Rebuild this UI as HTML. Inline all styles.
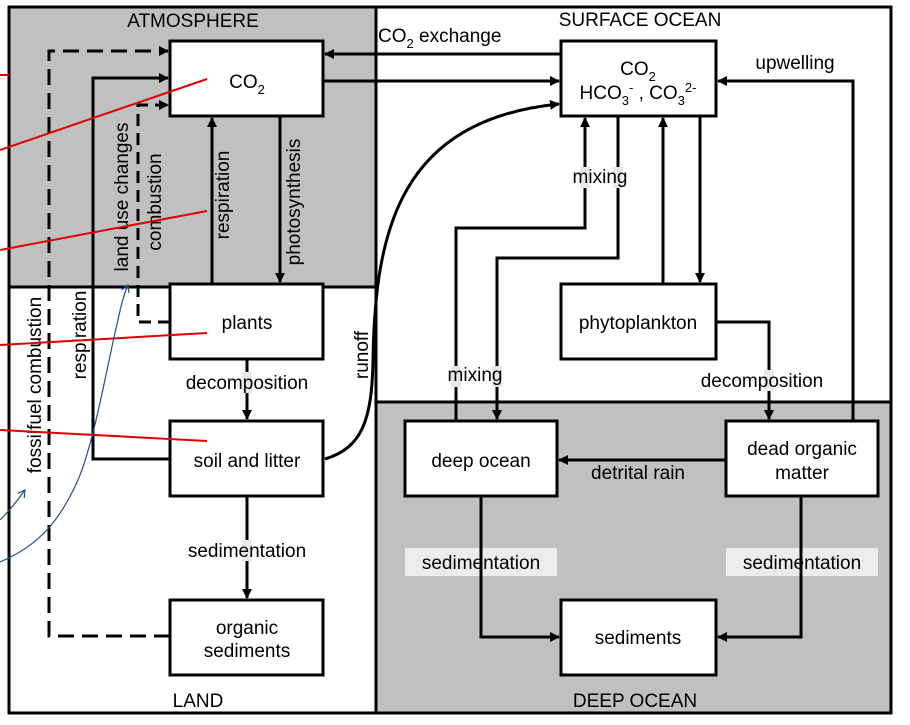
<!DOCTYPE html>
<html><head><meta charset="utf-8"><style>
html,body{margin:0;padding:0;background:#fff;}
svg{display:block;}
text{font-family:"Liberation Sans",Arial,sans-serif;font-size:19px;fill:#000;}
</style></head><body>
<svg width="910" height="725" viewBox="0 0 910 725" xmlns="http://www.w3.org/2000/svg">
<defs>
<marker id="a" markerWidth="10" markerHeight="10" refX="9" refY="5" orient="auto" markerUnits="userSpaceOnUse">
<path d="M0,0 L10,5 L0,10 z" fill="#000"/></marker>
<marker id="b" markerWidth="10" markerHeight="10" refX="8" refY="5" orient="auto" markerUnits="userSpaceOnUse">
<path d="M1,1 L8,5 L1,9" fill="none" stroke="#1f4e8c" stroke-width="1.2"/></marker>
</defs>
<rect x="9" y="7" width="367" height="280" fill="#c0c0c0"/>
<rect x="376" y="402" width="515" height="311" fill="#c0c0c0"/>
<line x1="9" y1="287" x2="376" y2="287" stroke="#000" stroke-width="3"/>
<line x1="376" y1="402" x2="891" y2="402" stroke="#000" stroke-width="3"/>
<line x1="376" y1="7" x2="376" y2="713" stroke="#000" stroke-width="3"/>
<rect x="9" y="7" width="882" height="706" fill="none" stroke="#000" stroke-width="3"/>
<text x="193" y="27" text-anchor="middle" font-size="18">ATMOSPHERE</text>
<text x="640" y="26" text-anchor="middle" font-size="18">SURFACE OCEAN</text>
<text x="198" y="707" text-anchor="middle" font-size="18">LAND</text>
<text x="635" y="707" text-anchor="middle" font-size="18">DEEP OCEAN</text>
<rect x="405" y="548" width="152" height="28" fill="#ececec"/>
<rect x="726" y="548" width="152" height="28" fill="#ececec"/>
<g fill="none" stroke="#000" stroke-width="3">
<line x1="561" y1="54" x2="325" y2="54" marker-end="url(#a)"/>
<line x1="323" y1="81" x2="559" y2="81" marker-end="url(#a)"/>
<path d="M325,459 C362,448 372,420 373,360 C375,230 400,120 559,104" marker-end="url(#a)"/>
<path d="M170,636 H49 V51 H168" stroke-dasharray="16,8" marker-end="url(#a)"/>
<path d="M170,322 H138 V105 H168" stroke-dasharray="12,7" marker-end="url(#a)"/>
<path d="M170,459 H93 V78 H168" marker-end="url(#a)"/>
<line x1="212" y1="284" x2="212" y2="118" marker-end="url(#a)"/>
<line x1="280" y1="116" x2="280" y2="282" marker-end="url(#a)"/>
<line x1="247" y1="359" x2="247" y2="419" marker-end="url(#a)"/>
<line x1="247" y1="496" x2="247" y2="598" marker-end="url(#a)"/>
<path d="M456,421 V228 H585 V118" marker-end="url(#a)"/>
<path d="M618,116 V258 H497 V419" marker-end="url(#a)"/>
<line x1="663" y1="284" x2="663" y2="118" marker-end="url(#a)"/>
<line x1="700" y1="116" x2="700" y2="282" marker-end="url(#a)"/>
<path d="M716,322 H769 V419" marker-end="url(#a)"/>
<path d="M853,421 V81 H718" marker-end="url(#a)"/>
<line x1="726" y1="460" x2="559" y2="460" marker-end="url(#a)"/>
<path d="M481,496 V637 H559" marker-end="url(#a)"/>
<path d="M801,496 V637 H718" marker-end="url(#a)"/>
</g>
<g fill="#e8e8e8">
<rect x="580" y="167" width="10" height="21"/>
<rect x="613" y="167" width="10" height="21"/>
<rect x="451" y="366" width="10" height="21"/>
<rect x="492" y="366" width="10" height="21"/>
<rect x="764" y="370" width="10" height="21"/>
<rect x="242" y="372" width="10" height="21"/>
<rect x="242" y="540" width="10" height="21"/>
</g>
<g fill="#fff" stroke="#000" stroke-width="3">
<rect x="170" y="41" width="153" height="75"/>
<rect x="170" y="284" width="153" height="75"/>
<rect x="170" y="421" width="153" height="75"/>
<rect x="170" y="600" width="153" height="75"/>
<rect x="561" y="41" width="155" height="75"/>
<rect x="561" y="284" width="155" height="75"/>
<rect x="405" y="421" width="152" height="75"/>
<rect x="726" y="421" width="152" height="75"/>
<rect x="561" y="600" width="155" height="75"/>
</g>
<text x="247" y="88" text-anchor="middle">CO<tspan font-size="13" dy="6">2</tspan></text>
<text x="247" y="329" text-anchor="middle">plants</text>
<text x="247" y="467" text-anchor="middle">soil and litter</text>
<text x="247" y="634" text-anchor="middle">organic</text>
<text x="247" y="657" text-anchor="middle">sediments</text>
<text x="638" y="75" text-anchor="middle">CO<tspan font-size="13" dy="6">2</tspan></text>
<text x="638" y="99" text-anchor="middle">HCO<tspan font-size="13" dy="6">3</tspan><tspan font-size="13" dy="-13">-</tspan><tspan dy="7"> , CO</tspan><tspan font-size="13" dy="6">3</tspan><tspan font-size="13" dy="-13">2-</tspan></text>
<text x="638" y="329" text-anchor="middle">phytoplankton</text>
<text x="481" y="467" text-anchor="middle">deep ocean</text>
<text x="802" y="455" text-anchor="middle">dead organic</text>
<text x="802" y="479" text-anchor="middle">matter</text>
<text x="638" y="644" text-anchor="middle">sediments</text>
<text x="378" y="42">CO<tspan font-size="13" dy="6">2</tspan><tspan dy="-6"> exchange</tspan></text>
<text x="795" y="69" text-anchor="middle">upwelling</text>
<text x="600" y="183" text-anchor="middle">mixing</text>
<text x="475" y="381" text-anchor="middle">mixing</text>
<text x="762" y="387" text-anchor="middle">decomposition</text>
<text x="638" y="479" text-anchor="middle">detrital rain</text>
<text x="481" y="569" text-anchor="middle">sedimentation</text>
<text x="802" y="569" text-anchor="middle">sedimentation</text>
<text x="247" y="389" text-anchor="middle">decomposition</text>
<text x="247" y="557" text-anchor="middle">sedimentation</text>
<text transform="translate(41,385) rotate(-90)" text-anchor="middle">fossilfuel combustion</text>
<text transform="translate(86,335) rotate(-90)" text-anchor="middle">respiration</text>
<text transform="translate(128,197) rotate(-90)" text-anchor="middle">land use changes</text>
<text transform="translate(161,202) rotate(-90)" text-anchor="middle">combustion</text>
<text transform="translate(229,195) rotate(-90)" text-anchor="middle">respiration</text>
<text transform="translate(300,202) rotate(-90)" text-anchor="middle">photosynthesis</text>
<text transform="translate(368,355) rotate(-90)" text-anchor="middle">runoff</text>
<g stroke="#e00000" stroke-width="2" fill="none">
<line x1="0" y1="75" x2="9" y2="75"/>
<line x1="0" y1="150" x2="207" y2="79"/>
<line x1="0" y1="250" x2="207" y2="211"/>
<line x1="0" y1="345" x2="207" y2="333"/>
<line x1="0" y1="430" x2="207" y2="441"/>
</g>
<g stroke="#1f4e8c" stroke-width="1.2" fill="none">
<path d="M0,562 C40,545 60,520 78,480 C95,440 108,360 118,320 C122,300 125,292 128,285" marker-end="url(#b)"/>
<path d="M0,520 C10,510 18,500 25,490" marker-end="url(#b)"/>
</g>
</svg>
</body></html>
